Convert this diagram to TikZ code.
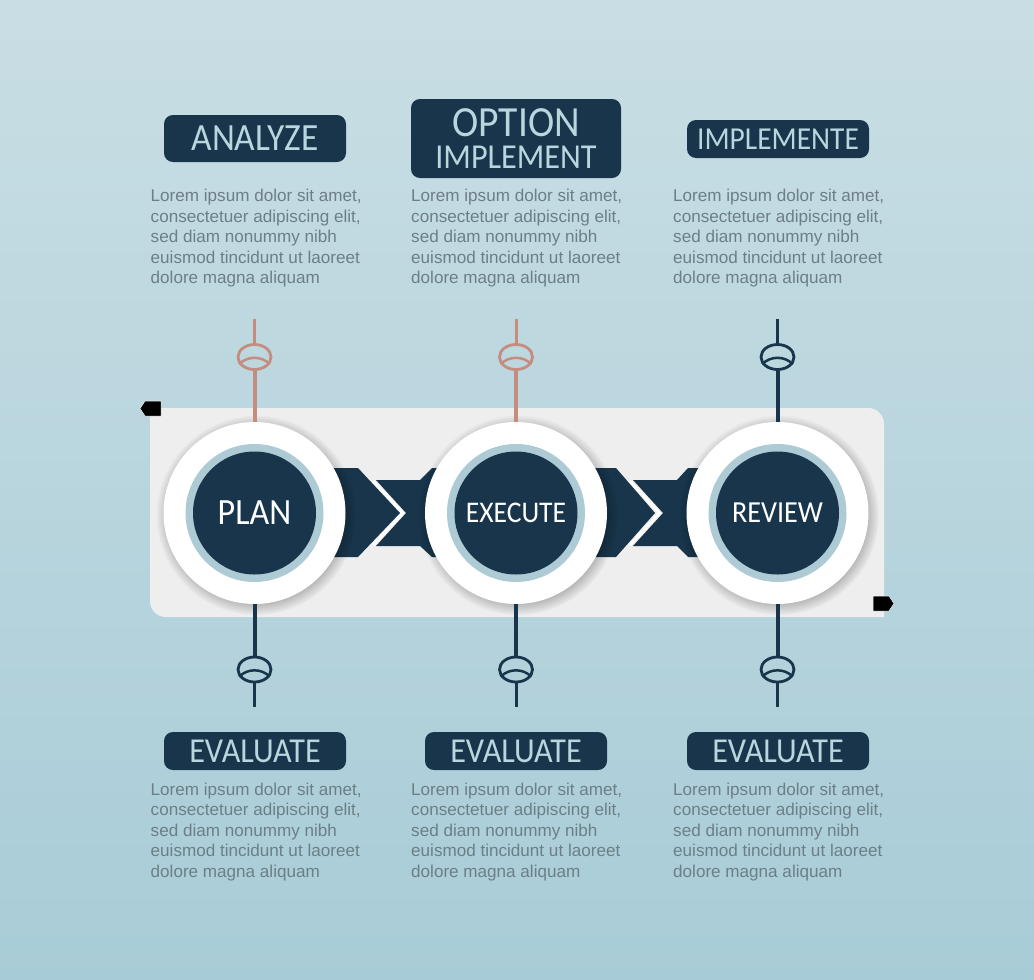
\documentclass[tikz,border=0pt]{standalone}
\usepackage{fontspec}
\usepackage{tikz}
\usetikzlibrary{shapes.geometric}
\usetikzlibrary{fadings}
\setmainfont{Liberation Sans}
\newfontfamily\titlefont[FakeStretch=0.92]{Carlito}
\definecolor{navy}{HTML}{18354B}
\definecolor{rose}{HTML}{C48D80}
\definecolor{ringblue}{HTML}{AECBD5}
\definecolor{paleblue}{HTML}{B9D6DF}
\definecolor{bodygrey}{HTML}{6C7F86}
\definecolor{panelgrey}{HTML}{EEEEEE}
\definecolor{skytop}{HTML}{C9DEE4}
\definecolor{skymid}{HTML}{B4D3DD}
\definecolor{skybottom}{HTML}{A8CCD7}
\begin{document}
\begin{tikzpicture}[x=1pt, y=-1pt,
  titlebox/.style={rectangle, rounded corners=9pt, fill=navy, text=paleblue, inner sep=0pt, align=center, font=\titlefont},
  bodytext/.style={anchor=north west, inner sep=0pt, align=left, text=bodygrey, font=\fontsize{17.1}{20.5}\selectfont},
  outerdisc/.style={circle, fill=white, minimum size=182pt, inner sep=0pt},
  ringdisc/.style={circle, fill=ringblue, minimum size=138pt, inner sep=0pt},
  coredisc/.style={circle, fill=navy, minimum size=123pt, inner sep=0pt, text=white, font=\titlefont},
  softshadow/.style={circle, fill=black, fill opacity=0.28, minimum size=200pt, inner sep=0pt, path fading=circle with fuzzy edge 15 percent},
  lens/.style={ellipse, draw, line width=2.8pt, minimum width=33pt, minimum height=25pt, inner sep=0pt},
  tag/.style={fill=black, draw=white, line width=0.5pt},
  stem/.style={line width=4pt},
  thinstem/.style={line width=3pt},
  lensarc/.style={line width=2.5pt}]
\useasboundingbox (0,0) rectangle (1034,980);
\shade [top color=skytop, middle color=skymid, bottom color=skybottom] (0,0) rectangle (1034,980);
% titles
\node [titlebox, minimum width=182pt, minimum height=47pt, font=\titlefont\fontsize{38.5}{38.5}\selectfont] (analyze) at (255,138.5) {ANALYZE};
\node [titlebox, minimum width=210pt, minimum height=79pt] (option) at (516,138.5) {{\fontsize{43}{37}\selectfont OPTION}\\[8pt]{\fontsize{35}{35}\selectfont IMPLEMENT}};
\node [titlebox, minimum width=182pt, minimum height=38pt, font=\titlefont\fontsize{32}{32}\selectfont] (implemente) at (778,139) {IMPLEMENTE};
\node [titlebox, minimum width=182pt, minimum height=38pt, font=\titlefont\fontsize{35}{35}\selectfont] (evaluateA) at (255,751) {EVALUATE};
\node [titlebox, minimum width=182pt, minimum height=38pt, font=\titlefont\fontsize{35}{35}\selectfont] (evaluateB) at (516,751) {EVALUATE};
\node [titlebox, minimum width=182pt, minimum height=38pt, font=\titlefont\fontsize{35}{35}\selectfont] (evaluateC) at (778,751) {EVALUATE};
% body text
\node [bodytext] (textA) at (150.5,189) {Lorem ipsum dolor sit amet,\\consectetuer adipiscing elit,\\sed diam nonummy nibh\\euismod tincidunt ut laoreet\\dolore magna aliquam};
\node [bodytext] (textB) at (411,189) {Lorem ipsum dolor sit amet,\\consectetuer adipiscing elit,\\sed diam nonummy nibh\\euismod tincidunt ut laoreet\\dolore magna aliquam};
\node [bodytext] (textC) at (673,189) {Lorem ipsum dolor sit amet,\\consectetuer adipiscing elit,\\sed diam nonummy nibh\\euismod tincidunt ut laoreet\\dolore magna aliquam};
\node [bodytext] (textD) at (150.5,782.5) {Lorem ipsum dolor sit amet,\\consectetuer adipiscing elit,\\sed diam nonummy nibh\\euismod tincidunt ut laoreet\\dolore magna aliquam};
\node [bodytext] (textE) at (411,782.5) {Lorem ipsum dolor sit amet,\\consectetuer adipiscing elit,\\sed diam nonummy nibh\\euismod tincidunt ut laoreet\\dolore magna aliquam};
\node [bodytext] (textF) at (673,782.5) {Lorem ipsum dolor sit amet,\\consectetuer adipiscing elit,\\sed diam nonummy nibh\\euismod tincidunt ut laoreet\\dolore magna aliquam};
% panel
\fill [panelgrey] (150,408) -- (868,408) .. controls (877,408) and (884,415) .. (884,424) -- (884,617) -- (166,617) .. controls (157,617) and (150,610) .. (150,601) -- cycle;
\fill [tag] (161,401) -- (145,401) -- (140,408.5) -- (145,416) -- (161,416) -- cycle;
\fill [tag] (873,596) -- (889,596) -- (894,603.5) -- (889,611) -- (873,611) -- cycle;
% arrows
\fill [navy] (333,468) -- (358,468) -- (400,513) -- (358,557) -- (333,557) -- cycle;
\fill [navy] (438,468) -- (432,468) -- (420,480) -- (376,480) -- (406,513) -- (376,546) -- (420,546) -- (432,557) -- (438,557) -- cycle;
\draw [white, line width=3pt] (373,481) -- (403,513) -- (373,545);
\fill [navy] (595,468) -- (616,468) -- (655,513) -- (616,557) -- (595,557) -- cycle;
\fill [navy] (700,468) -- (688,468) -- (677,480) -- (633,480) -- (663,513) -- (633,546) -- (677,546) -- (688,557) -- (700,557) -- cycle;
\draw [white, line width=3pt] (630,481) -- (659.5,513) -- (630,545);
% discs
\node [softshadow] (shadowA) at (256,515) {};
\node [softshadow] (shadowB) at (518,515) {};
\node [softshadow] (shadowC) at (779,515) {};
\node [outerdisc] (planOuter) at (254.5,513) {};
\node [outerdisc] (executeOuter) at (516,513) {};
\node [outerdisc] (reviewOuter) at (777.5,513) {};
\node [ringdisc] (planRing) at (254.5,513) {};
\node [ringdisc] (executeRing) at (516,513) {};
\node [ringdisc] (reviewRing) at (777.5,513) {};
\node [coredisc, font=\titlefont\fontsize{37}{37}\selectfont] (plan) at (254.5,513) {PLAN};
\node [coredisc, font=\titlefont\fontsize{30}{30}\selectfont] (execute) at (516,513) {EXECUTE};
\node [coredisc, font=\titlefont\fontsize{30.6}{30.6}\selectfont] (review) at (777.5,513) {REVIEW};
% stems and lenses
\coordinate (topA) at (254.5,319);
\coordinate (topB) at (516,319);
\coordinate (topC) at (777.5,319);
\coordinate (bottomA) at (254.5,707);
\coordinate (bottomB) at (516,707);
\coordinate (bottomC) at (777.5,707);
\node [lens, draw=rose] (lensA) at (254.5,357) {};
\node [lens, draw=rose] (lensB) at (516,357) {};
\node [lens, draw=navy] (lensC) at (777.5,357) {};
\node [lens, draw=navy] (lensD) at (254.5,669.5) {};
\node [lens, draw=navy] (lensE) at (516,669.5) {};
\node [lens, draw=navy] (lensF) at (777.5,669.5) {};
\draw [thinstem, rose] (topA) -- (lensA);
\draw [thinstem, rose] (topB) -- (lensB);
\draw [thinstem, navy] (topC) -- (lensC);
\draw [stem, rose] (lensA) -- (planOuter);
\draw [stem, rose] (lensB) -- (executeOuter);
\draw [stem, navy] (lensC) -- (reviewOuter);
\draw [stem, navy] (planOuter) -- (lensD);
\draw [stem, navy] (executeOuter) -- (lensE);
\draw [stem, navy] (reviewOuter) -- (lensF);
\draw [thinstem, navy] (lensD) -- (bottomA);
\draw [thinstem, navy] (lensE) -- (bottomB);
\draw [thinstem, navy] (lensF) -- (bottomC);
\draw [lensarc, rose] (lensA.205) to [bend left=45] (lensA.-25);
\draw [lensarc, rose] (lensB.205) to [bend left=45] (lensB.-25);
\draw [lensarc, navy] (lensC.205) to [bend left=45] (lensC.-25);
\draw [lensarc, navy] (lensD.205) to [bend left=45] (lensD.-25);
\draw [lensarc, navy] (lensE.205) to [bend left=45] (lensE.-25);
\draw [lensarc, navy] (lensF.205) to [bend left=45] (lensF.-25);
\end{tikzpicture}
\end{document}
